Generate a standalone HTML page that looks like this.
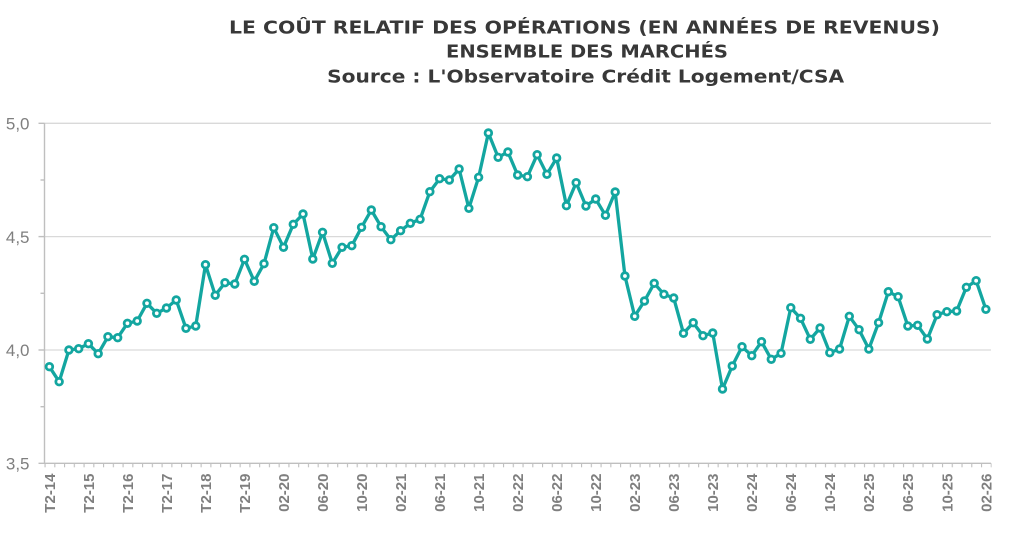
<!DOCTYPE html>
<html><head><meta charset="utf-8"><style>
html,body{margin:0;padding:0;background:#fff;}
svg{display:block;}
</style></head><body>
<svg width="1024" height="545" viewBox="0 0 1024 545" xmlns="http://www.w3.org/2000/svg">
<defs>
<pattern id="tk" x="44.5" y="0" width="9.755" height="545" patternUnits="userSpaceOnUse">
<rect x="0" y="0" width="1.1" height="545" fill="#bfbfbf"/>
</pattern>
</defs>
<rect width="1024" height="545" fill="#fff"/>
<g font-family="'DejaVu Sans', 'Liberation Sans', sans-serif" font-weight="bold" fill="#383838" font-size="18" text-anchor="middle">
<text x="584.5" y="33.3" textLength="711" lengthAdjust="spacingAndGlyphs">LE COÛT RELATIF DES OPÉRATIONS (EN ANNÉES DE REVENUS)</text>
<text x="587" y="57.7" textLength="282" lengthAdjust="spacingAndGlyphs">ENSEMBLE DES MARCHÉS</text>
<text x="585.6" y="82.3" textLength="517" lengthAdjust="spacingAndGlyphs">Source : L'Observatoire Crédit Logement/CSA</text>
</g>
<!-- grid -->
<g stroke="#d9d9d9" stroke-width="1.3">
<line x1="44.5" y1="123.3" x2="991" y2="123.3"/>
<line x1="44.5" y1="236.6" x2="991" y2="236.6"/>
<line x1="44.5" y1="350" x2="991" y2="350"/>
</g>
<!-- axes -->
<g stroke="#bfbfbf" stroke-width="1.4">
<line x1="44.5" y1="123.3" x2="44.5" y2="463.3"/>
<line x1="38.5" y1="463.3" x2="991" y2="463.3"/>
<line x1="38.5" y1="123.3" x2="44.5" y2="123.3"/>
<line x1="38.5" y1="236.6" x2="44.5" y2="236.6"/>
<line x1="38.5" y1="350" x2="44.5" y2="350"/>
<line x1="40.5" y1="180" x2="44.5" y2="180"/>
<line x1="40.5" y1="293.3" x2="44.5" y2="293.3"/>
<line x1="40.5" y1="406.7" x2="44.5" y2="406.7"/>
</g>
<rect x="44" y="463.3" width="947.6" height="4" fill="url(#tk)"/>
<!-- y labels -->
<g font-family="'Liberation Sans', Arial, sans-serif" font-size="17" fill="#7f7f7f" text-anchor="end">
<text x="29.5" y="129.5">5,0</text>
<text x="29.5" y="242.8">4,5</text>
<text x="29.5" y="356.2">4,0</text>
<text x="29.5" y="469.5">3,5</text>
</g>
<!-- x labels -->
<g font-family="'Liberation Sans', Arial, sans-serif" font-size="15" font-weight="bold" fill="#7f7f7f" text-anchor="end">
<text transform="translate(49.4,473.5) rotate(-90)" dy="0.36em">T2-14</text>
<text transform="translate(88.42,473.5) rotate(-90)" dy="0.36em">T2-15</text>
<text transform="translate(127.44,473.5) rotate(-90)" dy="0.36em">T2-16</text>
<text transform="translate(166.46,473.5) rotate(-90)" dy="0.36em">T2-17</text>
<text transform="translate(205.48,473.5) rotate(-90)" dy="0.36em">T2-18</text>
<text transform="translate(244.5,473.5) rotate(-90)" dy="0.36em">T2-19</text>
<text transform="translate(283.52,473.5) rotate(-90)" dy="0.36em">02-20</text>
<text transform="translate(322.54,473.5) rotate(-90)" dy="0.36em">06-20</text>
<text transform="translate(361.56,473.5) rotate(-90)" dy="0.36em">10-20</text>
<text transform="translate(400.58,473.5) rotate(-90)" dy="0.36em">02-21</text>
<text transform="translate(439.6,473.5) rotate(-90)" dy="0.36em">06-21</text>
<text transform="translate(478.62,473.5) rotate(-90)" dy="0.36em">10-21</text>
<text transform="translate(517.64,473.5) rotate(-90)" dy="0.36em">02-22</text>
<text transform="translate(556.66,473.5) rotate(-90)" dy="0.36em">06-22</text>
<text transform="translate(595.68,473.5) rotate(-90)" dy="0.36em">10-22</text>
<text transform="translate(634.7,473.5) rotate(-90)" dy="0.36em">02-23</text>
<text transform="translate(673.72,473.5) rotate(-90)" dy="0.36em">06-23</text>
<text transform="translate(712.74,473.5) rotate(-90)" dy="0.36em">10-23</text>
<text transform="translate(751.76,473.5) rotate(-90)" dy="0.36em">02-24</text>
<text transform="translate(790.78,473.5) rotate(-90)" dy="0.36em">06-24</text>
<text transform="translate(829.8,473.5) rotate(-90)" dy="0.36em">10-24</text>
<text transform="translate(868.82,473.5) rotate(-90)" dy="0.36em">02-25</text>
<text transform="translate(907.84,473.5) rotate(-90)" dy="0.36em">06-25</text>
<text transform="translate(946.86,473.5) rotate(-90)" dy="0.36em">10-25</text>
<text transform="translate(985.88,473.5) rotate(-90)" dy="0.36em">02-26</text>
</g>
<!-- series -->
<polyline fill="none" stroke="#13a6a0" stroke-width="3.3" stroke-linejoin="round" points="49.4,366.7 59.16,381.7 68.91,350 78.67,348.7 88.42,343.7 98.18,353.7 107.93,336.7 117.69,337.7 127.44,323.3 137.2,321 146.95,303.3 156.71,313.3 166.46,308 176.22,300 185.97,328.3 195.73,326 205.48,264.7 215.24,295.3 224.99,282.7 234.75,284 244.5,259.3 254.26,281.3 264.01,263.7 273.77,227.7 283.52,247.3 293.28,224.3 303.03,214 312.79,259 322.54,232.3 332.3,263.3 342.05,247.3 351.81,245.7 361.56,227.3 371.32,210 381.07,226.7 390.83,239.7 400.58,230.7 410.34,223.3 420.09,219.3 429.85,191.7 439.6,178.7 449.36,180 459.11,169 468.87,208.3 478.62,177.3 488.38,133 498.13,157.3 507.89,152 517.64,175 527.4,176.7 537.15,154.7 546.91,174.3 556.66,158 566.42,205.7 576.17,182.7 585.93,206 595.68,199 605.44,215.3 615.19,192 624.95,276 634.7,316.3 644.46,301 654.21,283.3 663.97,294.3 673.72,298 683.48,333.3 693.23,322.7 702.99,335.7 712.74,333 722.5,389 732.25,366 742.01,346.7 751.76,355.7 761.52,341.7 771.27,359.3 781.03,353.3 790.78,307.7 800.54,318.3 810.29,339.3 820.05,328 829.8,352.7 839.56,349 849.31,316.3 859.07,329.7 868.82,349 878.58,322.7 888.33,291.7 898.09,296.7 907.84,326 917.6,325.3 927.35,339 937.11,314.7 946.86,311.7 956.62,311 966.37,287.3 976.13,280.7 985.88,309.3"/>
<g fill="#fff" stroke="#13a6a0" stroke-width="2.8">
<circle cx="49.4" cy="366.7" r="3.3"/><circle cx="59.16" cy="381.7" r="3.3"/><circle cx="68.91" cy="350" r="3.3"/><circle cx="78.67" cy="348.7" r="3.3"/><circle cx="88.42" cy="343.7" r="3.3"/><circle cx="98.18" cy="353.7" r="3.3"/><circle cx="107.93" cy="336.7" r="3.3"/><circle cx="117.69" cy="337.7" r="3.3"/><circle cx="127.44" cy="323.3" r="3.3"/><circle cx="137.2" cy="321" r="3.3"/>
<circle cx="146.95" cy="303.3" r="3.3"/><circle cx="156.71" cy="313.3" r="3.3"/><circle cx="166.46" cy="308" r="3.3"/><circle cx="176.22" cy="300" r="3.3"/><circle cx="185.97" cy="328.3" r="3.3"/><circle cx="195.73" cy="326" r="3.3"/><circle cx="205.48" cy="264.7" r="3.3"/><circle cx="215.24" cy="295.3" r="3.3"/><circle cx="224.99" cy="282.7" r="3.3"/><circle cx="234.75" cy="284" r="3.3"/>
<circle cx="244.5" cy="259.3" r="3.3"/><circle cx="254.26" cy="281.3" r="3.3"/><circle cx="264.01" cy="263.7" r="3.3"/><circle cx="273.77" cy="227.7" r="3.3"/><circle cx="283.52" cy="247.3" r="3.3"/><circle cx="293.28" cy="224.3" r="3.3"/><circle cx="303.03" cy="214" r="3.3"/><circle cx="312.79" cy="259" r="3.3"/><circle cx="322.54" cy="232.3" r="3.3"/><circle cx="332.3" cy="263.3" r="3.3"/>
<circle cx="342.05" cy="247.3" r="3.3"/><circle cx="351.81" cy="245.7" r="3.3"/><circle cx="361.56" cy="227.3" r="3.3"/><circle cx="371.32" cy="210" r="3.3"/><circle cx="381.07" cy="226.7" r="3.3"/><circle cx="390.83" cy="239.7" r="3.3"/><circle cx="400.58" cy="230.7" r="3.3"/><circle cx="410.34" cy="223.3" r="3.3"/><circle cx="420.09" cy="219.3" r="3.3"/><circle cx="429.85" cy="191.7" r="3.3"/>
<circle cx="439.6" cy="178.7" r="3.3"/><circle cx="449.36" cy="180" r="3.3"/><circle cx="459.11" cy="169" r="3.3"/><circle cx="468.87" cy="208.3" r="3.3"/><circle cx="478.62" cy="177.3" r="3.3"/><circle cx="488.38" cy="133" r="3.3"/><circle cx="498.13" cy="157.3" r="3.3"/><circle cx="507.89" cy="152" r="3.3"/><circle cx="517.64" cy="175" r="3.3"/><circle cx="527.4" cy="176.7" r="3.3"/>
<circle cx="537.15" cy="154.7" r="3.3"/><circle cx="546.91" cy="174.3" r="3.3"/><circle cx="556.66" cy="158" r="3.3"/><circle cx="566.42" cy="205.7" r="3.3"/><circle cx="576.17" cy="182.7" r="3.3"/><circle cx="585.93" cy="206" r="3.3"/><circle cx="595.68" cy="199" r="3.3"/><circle cx="605.44" cy="215.3" r="3.3"/><circle cx="615.19" cy="192" r="3.3"/><circle cx="624.95" cy="276" r="3.3"/>
<circle cx="634.7" cy="316.3" r="3.3"/><circle cx="644.46" cy="301" r="3.3"/><circle cx="654.21" cy="283.3" r="3.3"/><circle cx="663.97" cy="294.3" r="3.3"/><circle cx="673.72" cy="298" r="3.3"/><circle cx="683.48" cy="333.3" r="3.3"/><circle cx="693.23" cy="322.7" r="3.3"/><circle cx="702.99" cy="335.7" r="3.3"/><circle cx="712.74" cy="333" r="3.3"/><circle cx="722.5" cy="389" r="3.3"/>
<circle cx="732.25" cy="366" r="3.3"/><circle cx="742.01" cy="346.7" r="3.3"/><circle cx="751.76" cy="355.7" r="3.3"/><circle cx="761.52" cy="341.7" r="3.3"/><circle cx="771.27" cy="359.3" r="3.3"/><circle cx="781.03" cy="353.3" r="3.3"/><circle cx="790.78" cy="307.7" r="3.3"/><circle cx="800.54" cy="318.3" r="3.3"/><circle cx="810.29" cy="339.3" r="3.3"/><circle cx="820.05" cy="328" r="3.3"/>
<circle cx="829.8" cy="352.7" r="3.3"/><circle cx="839.56" cy="349" r="3.3"/><circle cx="849.31" cy="316.3" r="3.3"/><circle cx="859.07" cy="329.7" r="3.3"/><circle cx="868.82" cy="349" r="3.3"/><circle cx="878.58" cy="322.7" r="3.3"/><circle cx="888.33" cy="291.7" r="3.3"/><circle cx="898.09" cy="296.7" r="3.3"/><circle cx="907.84" cy="326" r="3.3"/><circle cx="917.6" cy="325.3" r="3.3"/>
<circle cx="927.35" cy="339" r="3.3"/><circle cx="937.11" cy="314.7" r="3.3"/><circle cx="946.86" cy="311.7" r="3.3"/><circle cx="956.62" cy="311" r="3.3"/><circle cx="966.37" cy="287.3" r="3.3"/><circle cx="976.13" cy="280.7" r="3.3"/><circle cx="985.88" cy="309.3" r="3.3"/>
</g>
</svg>
</body></html>
